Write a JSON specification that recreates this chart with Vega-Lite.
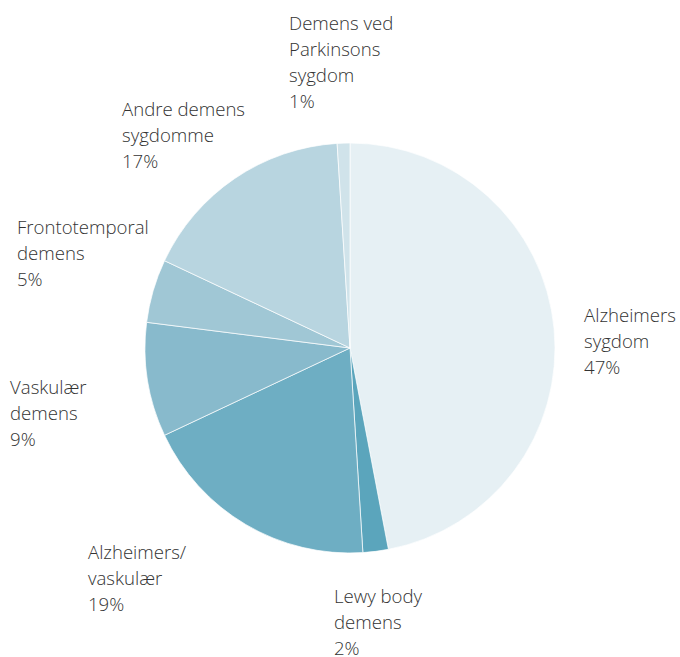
{
  "$schema": "https://vega.github.io/schema/vega-lite/v6.json",
  "width": 660,
  "height": 618,
  "autosize": {"type": "none"},
  "padding": {"left": 20, "top": 39, "right": 0, "bottom": 0},
  "background": "white",
  "config": {"view": {"stroke": null}, "text": {"font": "Open Sans", "fontWeight": 300, "fontSize": 18.6, "lineHeight": 26, "align": "left", "baseline": "middle", "lineBreak": "\n"}},
  "data": {
    "values": [
      {"rank": 1, "category": "Alzheimers sygdom", "value": 47, "label": "Alzheimers\nsygdom\n47%"},
      {"rank": 2, "category": "Lewy body demens", "value": 2, "label": "Lewy body\ndemens\n2%"},
      {"rank": 3, "category": "Alzheimers/vaskulær", "value": 19, "label": "Alzheimers/\nvaskulær\n19%"},
      {"rank": 4, "category": "Vaskulær demens", "value": 9, "label": "Vaskulær\ndemens\n9%"},
      {"rank": 5, "category": "Frontotemporal demens", "value": 5, "label": "Frontotemporal\ndemens\n5%"},
      {"rank": 6, "category": "Andre demens sygdomme", "value": 17, "label": "Andre demens\nsygdomme\n17%"},
      {"rank": 7, "category": "Demens ved Parkinsons sygdom", "value": 1, "label": "Demens ved\nParkinsons\nsygdom\n1%"}
    ]
  },
  "transform": [
    {"stack": "value", "groupby": [], "sort": [{"field": "rank", "order": "ascending"}], "as": ["v0", "v1"]}
  ],
  "encoding": {
    "theta": {"field": "v0", "type": "quantitative", "scale": {"domain": [0, 100]}},
    "color": {
      "field": "category",
      "type": "nominal",
      "legend": null,
      "scale": {
        "domain": ["Alzheimers sygdom", "Lewy body demens", "Alzheimers/vaskulær", "Vaskulær demens", "Frontotemporal demens", "Andre demens sygdomme", "Demens ved Parkinsons sygdom"],
        "range": ["#e6f0f4", "#5ba5bc", "#6eaec3", "#88bacc", "#a0c7d5", "#b8d5e0", "#d0e3ea"]
      }
    }
  },
  "layer": [
    {
      "mark": {"type": "arc", "outerRadius": 205, "stroke": "white", "strokeWidth": 0.7},
      "encoding": {"theta2": {"field": "v1"}}
    },
    {
      "transform": [{"filter": "datum.rank == 1"}],
      "mark": {"type": "text", "radius": 236.2, "thetaOffset": 1.4348},
      "encoding": {"text": {"field": "label"}, "color": {"value": "#333333"}}
    },
    {
      "transform": [{"filter": "datum.rank == 2"}],
      "mark": {"type": "text", "radius": 249.5, "thetaOffset": 0.2527},
      "encoding": {"text": {"field": "label"}, "color": {"value": "#333333"}}
    },
    {
      "transform": [{"filter": "datum.rank == 3"}],
      "mark": {"type": "text", "radius": 332.7, "thetaOffset": 0.9697},
      "encoding": {"text": {"field": "label"}, "color": {"value": "#333333"}}
    },
    {
      "transform": [{"filter": "datum.rank == 4"}],
      "mark": {"type": "text", "radius": 342.3, "thetaOffset": 0.3227},
      "encoding": {"text": {"field": "label"}, "color": {"value": "#333333"}}
    },
    {
      "transform": [{"filter": "datum.rank == 5"}],
      "mark": {"type": "text", "radius": 353.8, "thetaOffset": 0.2189},
      "encoding": {"text": {"field": "label"}, "color": {"value": "#333333"}}
    },
    {
      "transform": [{"filter": "datum.rank == 6"}],
      "mark": {"type": "text", "radius": 329.6, "thetaOffset": 0.3670},
      "encoding": {"text": {"field": "label"}, "color": {"value": "#333333"}}
    },
    {
      "transform": [{"filter": "datum.rank == 7"}],
      "mark": {"type": "text", "radius": 329.7, "thetaOffset": -0.1232},
      "encoding": {"text": {"field": "label"}, "color": {"value": "#333333"}}
    }
  ]
}
